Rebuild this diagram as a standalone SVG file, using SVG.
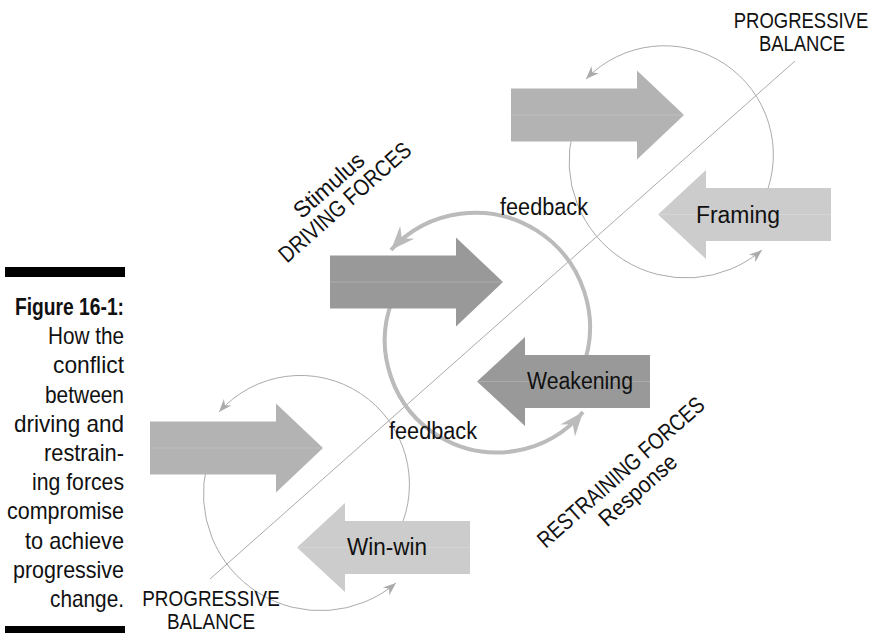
<svg xmlns="http://www.w3.org/2000/svg" xmlns:xlink="http://www.w3.org/1999/xlink" width="874" height="633" viewBox="0 0 874 633">
<style>
  .lbl { font-family: "Liberation Sans", Arial, sans-serif; font-size: 23px; fill: #111; }
  .bal { font-family: "Liberation Sans", Arial, sans-serif; font-size: 21px; fill: #111; text-anchor: middle; }
  .cap { font-family: "Liberation Sans", Arial, sans-serif; font-size: 24px; fill: #111; text-anchor: end; }
  .thin { fill: none; stroke: #ababab; stroke-width: 1; }
  .thick { fill: none; stroke: #bbbbbb; stroke-width: 4; }
  .axis { stroke: #aaaaaa; stroke-width: 1; }
  .dark { fill: #999999; }
  .mid { fill: #b3b3b3; }
  .light { fill: #cccccc; }
  .seam { stroke: #ffffff; stroke-opacity: 0.18; stroke-width: 1; }
  .bar { fill: #000; }
</style>
<defs>
  <path id="arrowR" d="M0,-26.5 H126 V-44.5 L173,0 L126,44.5 V26.5 H0 Z"/>
  <path id="arrowL" d="M0,0 L48,-44.5 V-26.5 H173 V26.5 H48 V44.5 Z"/>
  <marker id="headThin" markerUnits="userSpaceOnUse" markerWidth="16" markerHeight="12" viewBox="-14 -6 16 12" refX="0" refY="0" orient="auto">
    <path d="M0,0 L-13,-5 L-9,0 L-13,5 Z" fill="#ababab"/>
  </marker>
  <marker id="headThick" markerUnits="userSpaceOnUse" markerWidth="28" markerHeight="22" viewBox="-26 -11 28 22" refX="0" refY="0" orient="auto">
    <path d="M0,0 L-24,-9.5 L-16,0 L-24,9.5 Z" fill="#bbbbbb"/>
  </marker>
</defs>

<g id="connectors">
  <line class="axis" x1="795" y1="61" x2="210" y2="579"/>
  <path class="thin" d="M764.8,197.1 A109,109 0 0 0 586,79" marker-end="url(#headThin)"/>
  <path class="thin" d="M573,131 A117,117 0 0 0 762,250" marker-end="url(#headThin)"/>
  <path class="thick" d="M581.7,370 A114.5,114.5 0 0 0 391,250" marker-end="url(#headThick)"/>
  <path class="thick" d="M392.4,300 A112,112 0 0 0 583,412" marker-end="url(#headThick)"/>
  <path class="thin" d="M399,531 A109,109 0 0 0 219,412" marker-end="url(#headThin)"/>
  <path class="thin" d="M207,465 A117,117 0 0 0 396,583" marker-end="url(#headThin)"/>
</g>

<g id="drive-top">
  <use xlink:href="#arrowR" href="#arrowR" class="mid" x="511" y="115"/>
  <line class="seam" x1="511" y1="115" x2="684" y2="115"/>
</g>
<g id="framing">
  <use xlink:href="#arrowL" href="#arrowL" class="light" x="658" y="214.5"/>
  <line class="seam" x1="658" y1="214.5" x2="831" y2="214.5"/>
  <text class="lbl" x="696" y="223" textLength="84" lengthAdjust="spacingAndGlyphs">Framing</text>
</g>
<g id="drive-middle">
  <use xlink:href="#arrowR" href="#arrowR" class="dark" x="330" y="282"/>
  <line class="seam" x1="330" y1="282" x2="503" y2="282"/>
</g>
<g id="weakening">
  <use xlink:href="#arrowL" href="#arrowL" class="dark" x="477" y="381.5"/>
  <line class="seam" x1="477" y1="381.5" x2="650" y2="381.5"/>
  <text class="lbl" x="527" y="389" textLength="106" lengthAdjust="spacingAndGlyphs">Weakening</text>
</g>
<g id="drive-bottom">
  <use xlink:href="#arrowR" href="#arrowR" class="mid" x="150" y="448"/>
  <line class="seam" x1="150" y1="448" x2="323" y2="448"/>
</g>
<g id="win-win">
  <use xlink:href="#arrowL" href="#arrowL" class="light" x="297" y="547.5"/>
  <line class="seam" x1="297" y1="547.5" x2="470" y2="547.5"/>
  <text class="lbl" x="347" y="555" textLength="80" lengthAdjust="spacingAndGlyphs">Win-win</text>
</g>

<g id="feedback-top"><text class="lbl" x="500" y="215" textLength="88" lengthAdjust="spacingAndGlyphs">feedback</text></g>
<g id="feedback-bottom"><text class="lbl" x="389" y="439" textLength="88" lengthAdjust="spacingAndGlyphs">feedback</text></g>

<g id="balance-top">
  <text class="bal" transform="translate(801,28) scale(0.88,1.05)">PROGRESSIVE</text>
  <text class="bal" transform="translate(802,50.5) scale(0.88,1.05)">BALANCE</text>
</g>
<g id="balance-bottom">
  <text class="bal" transform="translate(211,606) scale(0.9,1.05)">PROGRESSIVE</text>
  <text class="bal" transform="translate(211,629) scale(0.9,1.05)">BALANCE</text>
</g>

<g id="driving-forces">
  <text class="lbl" text-anchor="middle" transform="translate(334,191) rotate(-41.5)" textLength="86" lengthAdjust="spacingAndGlyphs">Stimulus</text>
  <text class="lbl" text-anchor="middle" transform="translate(350,208) rotate(-41.5)" textLength="168" lengthAdjust="spacingAndGlyphs">DRIVING FORCES</text>
</g>
<g id="restraining-forces">
  <text class="lbl" text-anchor="middle" transform="translate(626,478) rotate(-41.5)" textLength="214" lengthAdjust="spacingAndGlyphs">RESTRAINING FORCES</text>
  <text class="lbl" text-anchor="middle" transform="translate(643,496) rotate(-41.5)" textLength="96" lengthAdjust="spacingAndGlyphs">Response</text>
</g>

<g id="caption">
  <rect class="bar" x="5" y="267" width="120" height="10"/>
  <text class="cap" x="124" y="315" font-weight="bold" textLength="109" lengthAdjust="spacingAndGlyphs">Figure 16-1:</text>
  <text class="cap" x="124" y="344.2" textLength="76" lengthAdjust="spacingAndGlyphs">How the</text>
  <text class="cap" x="124" y="373.4" textLength="71" lengthAdjust="spacingAndGlyphs">conflict</text>
  <text class="cap" x="124" y="402.6" textLength="79" lengthAdjust="spacingAndGlyphs">between</text>
  <text class="cap" x="124" y="431.8" textLength="110" lengthAdjust="spacingAndGlyphs">driving and</text>
  <text class="cap" x="124" y="461" textLength="80" lengthAdjust="spacingAndGlyphs">restrain-</text>
  <text class="cap" x="124" y="490.2" textLength="92" lengthAdjust="spacingAndGlyphs">ing forces</text>
  <text class="cap" x="124" y="519.4" textLength="117" lengthAdjust="spacingAndGlyphs">compromise</text>
  <text class="cap" x="124" y="548.6" textLength="99" lengthAdjust="spacingAndGlyphs">to achieve</text>
  <text class="cap" x="124" y="577.8" textLength="111" lengthAdjust="spacingAndGlyphs">progressive</text>
  <text class="cap" x="124" y="607" textLength="74" lengthAdjust="spacingAndGlyphs">change.</text>
  <rect class="bar" x="5" y="626" width="120" height="7"/>
</g>
</svg>
